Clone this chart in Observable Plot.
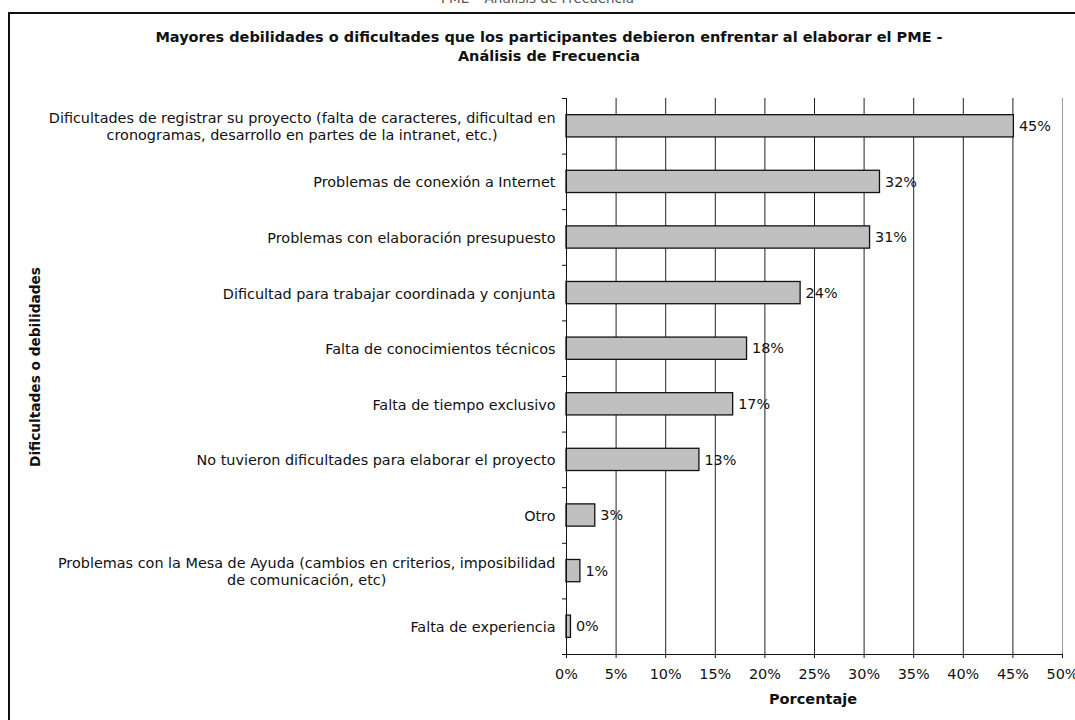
<!DOCTYPE html>
<html>
<head>
<meta charset="utf-8">
<script src="https://cdn.jsdelivr.net/npm/d3@7"></script>
<script src="https://cdn.jsdelivr.net/npm/@observablehq/plot@0.6"></script>
<style>
  html, body { margin: 0; padding: 0; background: white; }
  body { position: relative; width: 1075px; height: 720px; overflow: hidden; font-family: "DejaVu Sans", sans-serif; }
  #chart { position: absolute; left: 0; top: 0; }
  .frame { position: absolute; left: 8px; top: 12px; width: 1200px; height: 900px; border-left: 2px solid #111; border-top: 2px solid #111; }
  .toptxt { position: absolute; left: 0; width: 1075px; text-align: center; top: -10px; font-size: 13.5px; color: #555; }
  .title { position: absolute; left: 49px; width: 1000px; text-align: center; top: 28px; font-size: 14.5px; font-weight: bold; line-height: 19px; color: #111; }
  .ytitle { position: absolute; left: 35px; top: 367px; transform: translate(-50%, -50%) rotate(-90deg); font-size: 13.7px; font-weight: bold; white-space: nowrap; color: #111; }
  .xtitle { position: absolute; left: 813px; top: 699px; transform: translate(-50%, -50%); font-size: 14.5px; font-weight: bold; color: #111; }
</style>
</head>
<body>
<div class="frame"></div>
<div class="toptxt">PME – Análisis de Frecuencia</div>
<div class="title">Mayores debilidades o dificultades que los participantes debieron enfrentar al elaborar el PME -<br>Análisis de Frecuencia</div>
<div id="chart"></div>
<div class="ytitle">Dificultades o debilidades</div>
<div class="xtitle">Porcentaje</div>
<script>
const categories = [
  "Dificultades de registrar su proyecto (falta de caracteres, dificultad en\ncronogramas, desarrollo en partes de la intranet, etc.)",
  "Problemas de conexión a Internet",
  "Problemas con elaboración presupuesto",
  "Dificultad para trabajar coordinada y conjunta",
  "Falta de conocimientos técnicos",
  "Falta de tiempo exclusivo",
  "No tuvieron dificultades para elaborar el proyecto",
  "Otro",
  "Problemas con la Mesa de Ayuda (cambios en criterios, imposibilidad\nde comunicación, etc)",
  "Falta de experiencia"
];
const values = [45.1, 31.6, 30.6, 23.6, 18.2, 16.8, 13.4, 2.9, 1.4, 0.45];
const xTicks = [0, 5, 10, 15, 20, 25, 30, 35, 40, 45, 50];

const data = categories.map((c, i) => ({cat: c, i, v: values[i]}));
const FS = 14.4;

const plot = Plot.plot({
  width: 1075,
  height: 720,
  marginLeft: 566,
  marginRight: 13,
  marginTop: 98,
  marginBottom: 66,
  style: {fontFamily: "DejaVu Sans, sans-serif", fontSize: FS + "px", background: "transparent", color: "#111"},
  x: {domain: [0, 50]},
  y: {domain: [0, categories.length], reverse: true},
  marks: [
    Plot.ruleX(xTicks.filter(t => t > 0 && t < 50), {stroke: "#222", strokeWidth: 1}),
    Plot.ruleX([50], {stroke: "#999", strokeWidth: 1}),
    Plot.rectX(data, {x1: 0, x2: "v", y1: d => d.i + 0.3, y2: d => d.i + 0.7, fill: "#c0c0c0", stroke: "#111", strokeWidth: 1.3}),
    Plot.text(data, {x: "v", y: d => d.i + 0.5, text: d => Math.round(d.v) + "%", textAnchor: "start", dx: 5, fill: "#111", fontSize: FS}),
    Plot.ruleX([0], {stroke: "#111"}),
    Plot.ruleY([categories.length], {stroke: "#111"}),
    Plot.axisY({ticks: d3.range(0, categories.length + 1), tickFormat: () => "", tickSize: 4, label: null, stroke: "#111"}),
    Plot.axisY({ticks: d3.range(categories.length).map(i => i + 0.5), tickFormat: t => categories[Math.floor(t)], tickSize: 0, tickPadding: 11, label: null, lineHeight: 1.2, fontSize: FS}),
    Plot.axisX({ticks: xTicks, tickFormat: d => d + "%", tickSize: 4, tickPadding: 10, label: null, fontSize: FS})
  ]
});
document.getElementById("chart").appendChild(plot);

// center the lines of multi-line category labels, as in the original
plot.querySelectorAll("text").forEach(t => {
  const spans = t.querySelectorAll("tspan");
  if (spans.length > 1) {
    const widths = Array.from(spans, s => s.getComputedTextLength());
    const maxW = Math.max(...widths);
    spans.forEach((s, k) => {
      const orig = parseFloat(s.getAttribute("x") || "0");
      s.setAttribute("x", orig - (maxW - widths[k]) / 2);
    });
  }
});
</script>
</body>
</html>
